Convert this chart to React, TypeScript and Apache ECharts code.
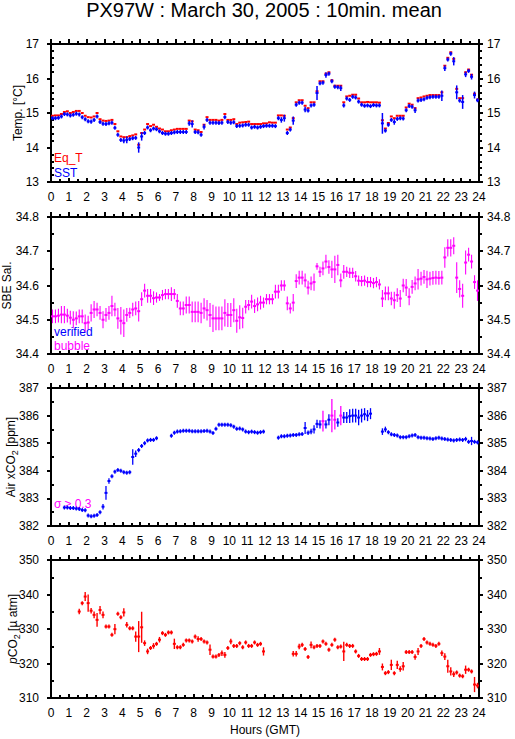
import React, { useEffect, useRef } from "react";
import * as echarts from "echarts";

const TITLE = "PX97W : March 30, 2005 : 10min. mean";
const X_NAME = "Hours (GMT)";
const HOUR_MIN = 0;
const HOUR_MAX = 24;
const HOUR_STEP = 1;
const BIN_WIDTH_H = 1 / 6; // 10-minute bins
const BIN_START = Array.from({ length: 144 }, (_, i) => i * BIN_WIDTH_H);

// Panel 1: temperatures (°C)
const SST = [
  14.85, 14.85, 14.86, 14.9, 14.97, 14.96,
  14.93, 14.95, 14.98, 14.96, 14.88, 14.82,
  14.76, 14.75, 14.8, 14.9, 14.74, 14.69,
  14.68, 14.7, 14.72, 14.57, 14.37, 14.22,
  14.2, 14.22, 14.25, 14.27, 14.28, 14.0,
  14.32, 14.42, 14.58, 14.5, 14.55, 14.53,
  14.47, 14.42, 14.4, 14.4, 14.42, 14.44,
  14.45, 14.45, 14.45, 14.45, 14.7, 14.68,
  14.45, 14.44, 14.37, 14.6, 14.8, 14.72,
  14.72, 14.72, 14.71, 14.72, 14.88, 14.74,
  14.72, 14.73, 14.62, 14.63, 14.64, 14.66,
  14.66, 14.58, 14.6, 14.58, 14.6, 14.62,
  14.63, 14.63, 14.63, 14.62,
  14.85, 14.8, 14.85, 14.42, 14.52, 14.78,
  15.24, 15.3, 15.3, 15.1, 15.07, 15.22,
  15.24, 15.58, 15.86, 15.88, 16.1, 16.14,
  15.92, 15.76, 15.75, 15.72, 15.22, 15.42,
  15.38, 15.47, 15.45, 15.33, 15.24, 15.21,
  15.22, 15.2, 15.23, 15.22, 15.22, 14.7,
  14.49, 14.66, 14.8, 14.74, 14.83, 14.85,
  14.84, 15.08, 15.2, 15.18, 15.08, 15.36,
  15.38, 15.4, 15.44, 15.46, 15.47, 15.47,
  15.47, 15.5, 16.3, 16.55, 16.72, 16.5,
  15.6, 15.36, 15.32, 16.12, 16.22, 16.05, 15.52, 15.37,
];
const SST_SIGMA = [
  0.03, 0.03, 0.05, 0.03, 0.04, 0.03,
  0.06, 0.03, 0.03, 0.03, 0.03, 0.03,
  0.04, 0.06, 0.03, 0.04, 0.05, 0.03,
  0.03, 0.03, 0.03, 0.05, 0.04, 0.04,
  0.08, 0.1, 0.04, 0.04, 0.05, 0.15,
  0.12, 0.04, 0.03, 0.03, 0.03, 0.03,
  0.03, 0.03, 0.03, 0.03, 0.03, 0.03,
  0.03, 0.03, 0.03, 0.03, 0.07, 0.1,
  0.03, 0.03, 0.03, 0.08, 0.03, 0.03,
  0.03, 0.04, 0.03, 0.05, 0.04, 0.04,
  0.03, 0.03, 0.04, 0.03, 0.03, 0.03,
  0.03, 0.04, 0.03, 0.03, 0.03, 0.03,
  0.03, 0.03, 0.03, 0.03,
  0.06, 0.08, 0.1, 0.03, 0.04, 0.12,
  0.05, 0.03, 0.03, 0.08, 0.03, 0.03,
  0.03, 0.2, 0.03, 0.03, 0.08, 0.04,
  0.06, 0.03, 0.03, 0.08, 0.06, 0.03,
  0.03, 0.03, 0.03, 0.03, 0.03, 0.03,
  0.03, 0.03, 0.03, 0.03, 0.03, 0.3,
  0.05, 0.03, 0.03, 0.08, 0.03, 0.03,
  0.03, 0.06, 0.03, 0.05, 0.08, 0.03,
  0.03, 0.03, 0.03, 0.03, 0.03, 0.03,
  0.03, 0.15, 0.08, 0.05, 0.03, 0.12,
  0.2, 0.04, 0.2, 0.08, 0.03, 0.08, 0.1, 0.03,
];
const EQ_T = [
  14.92, 14.93, 14.93, 14.97, 15.03, 15.05,
  15.0, 15.03, 15.06, 15.06, 15.0, 14.92,
  14.88, 14.87, 14.9, 15.0, 14.82, 14.78,
  14.77, 14.78, 14.8, 14.68, 14.47, 14.32,
  14.3, 14.3, 14.33, 14.35, 14.38, 14.08,
  14.42, 14.52, 14.68, 14.62, 14.66, 14.6,
  14.55, 14.52, 14.47, 14.47, 14.5, 14.52,
  14.54, 14.54, 14.54, 14.54, 14.78, 14.76,
  14.52, 14.5, 14.45, 14.66, 14.88, 14.8,
  14.8, 14.8, 14.78, 14.8, 14.97, 14.8,
  14.8, 14.82, 14.68, 14.72, 14.73, 14.74,
  14.75, 14.68, 14.68, 14.68, 14.68, 14.7,
  14.7, 14.73, 14.72, 14.72,
  14.93, 14.93, 14.92, 14.52, 14.58, 14.85,
  15.31, 15.37, 15.37, 15.21, 15.14, 15.31,
  15.31, 15.63, 15.92, 15.92, 16.14, 16.18,
  15.95, 15.79, 15.79, 15.79, 15.31, 15.48,
  15.5, 15.53, 15.53, 15.42, 15.31, 15.31,
  15.32, 15.31, 15.31, 15.31, 15.3, 14.79,
  14.55, 14.71, 14.9, 14.85, 14.92, 14.92,
  14.92, 15.16, 15.27, 15.24, 15.14, 15.43,
  15.45, 15.48, 15.5, 15.52, 15.52, 15.52,
  15.52, 15.6, 16.37, 16.6, 16.76, 16.57,
  15.7, 15.43, 15.43, 16.18, 16.26, 16.11, 15.56, 15.39,
];

// Panel 2: SBE salinity
const SALINITY = [
  34.51, 34.51, 34.512, 34.515, 34.515, 34.512,
  34.506, 34.5, 34.504, 34.51, 34.51, 34.49,
  34.492, 34.52, 34.53, 34.53, 34.52, 34.5,
  34.514, 34.52, 34.54, 34.53, 34.504, 34.497,
  34.49, 34.514, 34.52, 34.53, 34.533, 34.525,
  34.56, 34.585, 34.57, 34.57, 34.563, 34.565,
  34.565, 34.572, 34.575, 34.575, 34.575, 34.575,
  34.555, 34.533, 34.533, 34.543, 34.543, 34.523,
  34.523, 34.523, 34.52, 34.533, 34.528, 34.514,
  34.504, 34.504, 34.504, 34.504, 34.52, 34.514,
  34.514, 34.528, 34.497, 34.507, 34.505, 34.538,
  34.543, 34.553, 34.54, 34.545, 34.55, 34.55,
  34.56, 34.56, 34.56, 34.582, 34.582, 34.6,
  34.6, 34.548, 34.533, 34.55, 34.613, 34.623,
  34.623, 34.615, 34.594, 34.606, 34.61, 34.656,
  34.64, 34.65, 34.67, 34.654, 34.647, 34.647,
  34.66, 34.615, 34.64, 34.64, 34.637, 34.637,
  34.627, 34.614, 34.613, 34.614, 34.61, 34.61,
  34.607, 34.61, 34.603, 34.562, 34.577, 34.577,
  34.562, 34.557, 34.572, 34.562, 34.6, 34.594,
  34.567, 34.596, 34.606, 34.618, 34.62, 34.625,
  34.618, 34.62, 34.622, 34.623, 34.622, 34.623,
  34.682, 34.71, 34.71, 34.716, 34.623, 34.59,
  34.57, 34.667, 34.69, 34.67, 34.61, 34.585,
];
const SALINITY_SIGMA = [
  0.02, 0.02, 0.02, 0.025, 0.025, 0.02, 0.02, 0.025, 0.02, 0.02, 0.02, 0.025,
  0.02, 0.025, 0.025, 0.02, 0.02, 0.025, 0.02, 0.02, 0.03, 0.02, 0.03, 0.04,
  0.04, 0.02, 0.015, 0.02, 0.02, 0.03, 0.02, 0.02, 0.02, 0.02, 0.02, 0.015,
  0.01, 0.015, 0.015, 0.015, 0.02, 0.015, 0.02, 0.02, 0.02, 0.025, 0.025, 0.03,
  0.03, 0.03, 0.03, 0.03, 0.03, 0.035, 0.04, 0.035, 0.035, 0.035, 0.04, 0.035,
  0.035, 0.035, 0.035, 0.035, 0.03, 0.02, 0.015, 0.02, 0.02, 0.02, 0.02, 0.015,
  0.015, 0.015, 0.015, 0.02, 0.02, 0.015, 0.015, 0.02, 0.015, 0.025, 0.02, 0.02,
  0.02, 0.02, 0.02, 0.02, 0.025, 0.01, 0.015, 0.02, 0.02, 0.02, 0.025, 0.04,
  0.03, 0.02, 0.02, 0.015, 0.015, 0.015, 0.015, 0.015, 0.015, 0.015, 0.015, 0.015,
  0.015, 0.015, 0.015, 0.025, 0.02, 0.02, 0.02, 0.025, 0.02, 0.025, 0.02, 0.025,
  0.025, 0.02, 0.02, 0.03, 0.02, 0.02, 0.025, 0.02, 0.02, 0.02, 0.02, 0.02,
  0.03, 0.025, 0.025, 0.025, 0.045, 0.025, 0.035, 0.035, 0.02, 0.02, 0.02, 0.03,
];

// Panel 3: atmospheric xCO2 (ppm)
const AIR_XCO2 = [
  null, null, null, null,
  382.67, 382.67, 382.65, 382.65, 382.63, 382.62, 382.58, 382.57,
  382.38, 382.35, 382.37, 382.4, 382.5, 382.7,
  383.2, 383.63, 383.8, 383.97, 384.03, 384.0,
  383.95, 383.93, 383.95, 384.5, 384.62, 384.75,
  384.9, 385.0, 385.1, 385.12, 385.12, 385.18,
  null, null, null, null,
  385.27, 385.38, 385.42, 385.43, 385.45, 385.45, 385.45, 385.43,
  385.43, 385.43, 385.43, 385.44, 385.45, 385.42, 385.37, 385.52,
  385.67, 385.67, 385.67, 385.67, 385.65, 385.6, 385.52, 385.53,
  385.5, 385.42, 385.4, 385.42, 385.4, 385.38, 385.4, 385.42,
  null, null, null, null,
  385.2, 385.25, 385.25, 385.27, 385.28, 385.3, 385.3, 385.32,
  385.33, 385.55, 385.38, 385.42, 385.5, 385.7, 385.68, 385.8,
  385.68, 385.85, 386.0, 385.85, 385.75, 386.0, 385.93, 385.93,
  385.98, 386.0, 386.0, 385.93, 386.0, 386.05, 386.0, 386.07,
  null, null, null,
  385.42, 385.5, 385.4, 385.32, 385.3, 385.28, 385.22, 385.22,
  385.22, 385.25, 385.28, 385.3, 385.22, 385.2, 385.2, 385.18,
  385.17, 385.15, 385.18, 385.2, 385.17, 385.15, 385.13, 385.12,
  385.1, 385.12, 385.13, 385.12, 385.15, 385.05, 385.08, 385.05, 385.03,
];
const AIR_XCO2_SIGMA = [
  null, null, null, null,
  0.02, 0.02, 0.02, 0.02, 0.02, 0.02, 0.02, 0.02,
  0.03, 0.02, 0.02, 0.03, 0.05, 0.1,
  0.25, 0.1, 0.05, 0.03, 0.03, 0.03,
  0.02, 0.02, 0.02, 0.28, 0.12, 0.08,
  0.05, 0.04, 0.03, 0.03, 0.03, 0.03,
  null, null, null, null,
  0.03, 0.03, 0.02, 0.02, 0.02, 0.02, 0.02, 0.02,
  0.02, 0.02, 0.02, 0.02, 0.02, 0.02, 0.03, 0.05,
  0.02, 0.02, 0.02, 0.02, 0.02, 0.02, 0.02, 0.02,
  0.04, 0.02, 0.02, 0.02, 0.02, 0.02, 0.02, 0.02,
  null, null, null, null,
  0.02, 0.03, 0.03, 0.02, 0.02, 0.02, 0.02, 0.03,
  0.03, 0.22, 0.08, 0.1, 0.15, 0.15, 0.15, 0.38,
  0.15, 0.2, 0.6, 0.35, 0.15, 0.35, 0.2, 0.2,
  0.25, 0.25, 0.25, 0.28, 0.25, 0.22, 0.2, 0.2,
  null, null, null,
  0.12, 0.1, 0.05, 0.04, 0.04, 0.04, 0.03, 0.03,
  0.05, 0.03, 0.04, 0.05, 0.03, 0.03, 0.03, 0.03,
  0.03, 0.03, 0.04, 0.03, 0.03, 0.03, 0.03, 0.03,
  0.03, 0.04, 0.04, 0.05, 0.08, 0.05, 0.15, 0.05, 0.03,
];
const SIGMA_FLAG = 0.3;

// Panel 4: pCO2 (µatm)
const PCO2 = [
  null, null, null, null, null, null, null, null, null,
  335.06, 337.5, 339.4, 337.5, 335.3, 334.1,
  332.65, 335.5, 334.1, 330.7, 330.7, 328.3,
  329.95, 334.4, 333.4, 334.8, 331.2, 330.2,
  330.2, 327.8, 327.8, 330.5, 325.9, 323.5,
  324.5, 325.1, 325.7, 326.9, 328.8, 328.3,
  329.0, 329.0, 325.7, 324.7, 324.7, 325.4,
  326.7, 326.7, 326.4, 327.8, 327.1, 327.1,
  326.4, 326.1, 324.0, 322.0, 322.0, 322.5,
  323.0, 322.5, 324.5, 326.4, 325.1, 325.1,
  325.9, 324.7, 326.1, 325.1, 325.1, 326.1,
  325.4, 325.7, 323.5,
  null, null, null, null, null, null, null, null, null,
  322.8, 322.8, 324.9, 325.4, 324.2, 321.9,
  325.4, 324.7, 325.1, 325.1, 326.4, 325.7,
  324.0, 325.4, 326.9, 324.7, 324.9, 323.5,
  325.4, 325.1, 325.1, 323.5, 322.2, 321.3,
  321.3, 321.3, 322.5, 322.7, 322.8, 323.5,
  319.0, 317.2, 317.5, 319.6, 317.2, 319.6,
  318.4, 319.2, 323.3, 323.3, 323.3, 321.9,
  323.5, 325.1, 327.1, 326.1, 325.7, 325.4,
  325.1, 325.7, 323.0, 322.0, 319.2, 317.7,
  316.9, 317.4, 316.5, 316.3, 318.2, 318.2,
  317.7, 313.9, 313.6,
];
const PCO2_SIGMA = [
  null, null, null, null, null, null, null, null, null,
  0.8, 0.5, 1.3, 2.5, 0.8, 1.0,
  2.0, 1.2, 1.0, 0.5, 0.5, 0.5,
  1.5, 0.5, 0.5, 1.2, 0.8, 0.5,
  0.5, 1.5, 4.5, 4.5, 0.8, 0.8,
  0.5, 0.8, 0.5, 0.8, 0.5, 0.5,
  0.3, 0.3, 1.5, 0.5, 0.3, 0.5,
  0.5, 0.5, 0.5, 0.6, 0.8, 0.6,
  0.5, 0.5, 1.5, 0.5, 0.5, 0.5,
  0.8, 0.8, 0.5, 0.8, 0.5, 0.5,
  0.5, 0.5, 0.5, 0.5, 0.5, 0.5,
  0.5, 0.5, 1.2,
  null, null, null, null, null, null, null, null, null,
  0.8, 0.8, 0.8, 0.6, 0.6, 0.3,
  1.0, 0.5, 0.5, 0.5, 0.5, 0.3,
  0.5, 0.5, 0.3, 0.3, 0.5, 2.8,
  0.5, 0.5, 0.5, 0.5, 0.5, 0.3,
  0.3, 0.3, 0.5, 0.5, 0.5, 1.0,
  1.0, 0.3, 0.3, 1.5, 0.5, 1.2,
  0.8, 1.2, 0.5, 0.5, 0.5, 0.8,
  1.0, 0.5, 0.3, 0.3, 0.3, 0.3,
  0.3, 0.5, 0.8, 1.0, 1.9, 1.2,
  0.8, 0.5, 0.5, 0.5, 1.2, 0.5,
  0.3, 2.2, 0.8,
];

const PANELS = [
  { min: 13, max: 17, interval: 1, minorSplit: 5, name: "Temp. [°C]", nameGap: 24.5 },
  { min: 34.4, max: 34.8, interval: 0.1, minorSplit: 2, name: "SBE Sal.", nameGap: 35 },
  { min: 382, max: 387, interval: 1, minorSplit: 2, name: "Air xCO{sub|2} [ppm]", nameGap: 31.5 },
  { min: 310, max: 350, interval: 10, minorSplit: 2, name: "{it|p}CO{sub|2} [µ atm]", nameGap: 29.5 },
];

const LEGENDS = [
  { text: "Eq_T", color: "#ff0000", y: 158 },
  { text: "SST", color: "#0000ff", y: 172.5 },
  { text: "verified", color: "#0000ff", y: 332 },
  { text: "bubble", color: "#ff00ff", y: 345.5 },
  { text: "σ ≥ 0.3", color: "#ff00ff", y: 503.5 },
];

const RED = "#ff0000";
const BLUE = "#0000ff";
const MAGENTA = "#ff00ff";
const FONT = "'Liberation Sans', Arial, Helvetica, sans-serif";

const GRIDS = [
  { top: 44, height: 138 },
  { top: 217, height: 137 },
  { top: 388, height: 138 },
  { top: 560, height: 138 },
];

function buildSeries(
  name: string,
  gridIdx: number,
  values: (number | null)[],
  sigmas: (number | null)[] | null,
  colorFn: (s: number) => string,
  z: number,
  barWidth: number
) {
  const data: number[][] = [];
  values.forEach((v, i) => {
    if (v == null) return;
    const s = sigmas ? (sigmas[i] ?? 0) : -1;
    data.push([BIN_START[i], BIN_START[i] + BIN_WIDTH_H, v, s]);
  });
  return {
    type: "custom",
    name,
    xAxisIndex: gridIdx * 2,
    yAxisIndex: gridIdx * 3,
    z,
    data,
    encode: { x: [0, 1], y: 2 },
    renderItem: (params: any, api: any) => {
      const t0 = api.value(0);
      const t1 = api.value(1);
      const v = api.value(2);
      const s = api.value(3);
      const pL = api.coord([t0, v]);
      const pR = api.coord([t1, v]);
      const color = colorFn(s);
      const children: any[] = [
        {
          type: "line",
          shape: { x1: pL[0], y1: pL[1], x2: pR[0], y2: pR[1] },
          style: { stroke: color, lineWidth: 2 },
        },
      ];
      if (s >= 0) {
        const cx = (pL[0] + pR[0]) / 2;
        let yTop = api.coord([t0, v + s])[1];
        let yBot = api.coord([t0, v - s])[1];
        if (yBot - yTop < 4) {
          yTop = pL[1] - 2;
          yBot = pL[1] + 2;
        }
        children.push({
          type: "line",
          shape: { x1: cx, y1: yTop, x2: cx, y2: yBot },
          style: { stroke: color, lineWidth: barWidth },
        });
      }
      return { type: "group", children };
    },
  };
}

function buildOption() {
  const xAxis: any[] = [];
  const yAxis: any[] = [];
  const lineStyle = { color: "#000", width: 2 };
  const tickStyle = { color: "#000", width: 2 };
  GRIDS.forEach((_, g) => {
    xAxis.push({
      type: "value",
      gridIndex: g,
      position: "bottom",
      min: HOUR_MIN,
      max: HOUR_MAX,
      interval: HOUR_STEP,
      axisLine: { show: true, onZero: false, lineStyle },
      axisTick: { show: true, inside: true, length: 4, lineStyle: tickStyle },
      minorTick: { show: true, splitNumber: 2, length: 3, lineStyle: tickStyle },
      axisLabel: { show: true, margin: 9, color: "#000", fontSize: 12, fontFamily: FONT },
      splitLine: { show: false },
      minorSplitLine: { show: false },
      name: g === 3 ? X_NAME : "",
      nameLocation: "middle",
      nameGap: 26,
      nameMoveOverlap: false,
      nameTextStyle: { color: "#000", fontSize: 12, fontFamily: FONT },
    });
    xAxis.push({
      type: "value",
      gridIndex: g,
      position: "top",
      min: HOUR_MIN,
      max: HOUR_MAX,
      interval: HOUR_STEP,
      axisLine: { show: true, onZero: false, lineStyle },
      axisTick: { show: true, inside: false, length: 5, lineStyle: tickStyle },
      minorTick: { show: true, splitNumber: 2, length: 3, lineStyle: tickStyle },
      axisLabel: { show: false },
      splitLine: { show: false },
    });
    const p = PANELS[g];
    yAxis.push({
      type: "value",
      gridIndex: g,
      position: "left",
      min: p.min,
      max: p.max,
      interval: p.interval,
      axisLine: { show: true, onZero: false, lineStyle },
      axisTick: { show: true, inside: false, length: 4, lineStyle: tickStyle },
      axisLabel: { show: true, margin: 12, color: "#000", fontSize: 12, fontFamily: FONT },
      splitLine: { show: false },
      name: p.name,
      nameLocation: "middle",
      nameRotate: 90,
      nameGap: p.nameGap,
      nameMoveOverlap: false,
      nameTextStyle: {
        color: "#000",
        fontSize: 12,
        fontFamily: FONT,
        lineHeight: 18,
        rich: {
          sub: { fontSize: 9, lineHeight: 9, verticalAlign: "bottom", color: "#000", fontFamily: FONT },
          it: { fontSize: 12, fontStyle: "italic", color: "#000", fontFamily: FONT, lineHeight: 18 },
        },
      },
    });
    yAxis.push({
      type: "value",
      gridIndex: g,
      position: "left",
      min: p.min,
      max: p.max,
      interval: p.interval,
      axisLine: { show: false, onZero: false },
      axisTick: { show: false, inside: true },
      minorTick: { show: true, splitNumber: p.minorSplit, length: 3, lineStyle: tickStyle },
      axisLabel: { show: false },
      splitLine: { show: false },
    });
    yAxis.push({
      type: "value",
      gridIndex: g,
      position: "right",
      min: p.min,
      max: p.max,
      interval: p.interval,
      axisLine: { show: true, onZero: false, lineStyle },
      axisTick: { show: true, inside: false, length: 4, lineStyle: tickStyle },
      minorTick: { show: true, splitNumber: p.minorSplit, length: 3, lineStyle: tickStyle },
      axisLabel: { show: true, margin: 8, color: "#000", fontSize: 12, fontFamily: FONT },
      splitLine: { show: false },
    });
  });

  const series = [
    buildSeries("Eq_T", 0, EQ_T, null, () => RED, 2, 1.5),
    buildSeries("SST", 0, SST, SST_SIGMA, () => BLUE, 3, 1.5),
    buildSeries("bubble", 1, SALINITY, SALINITY_SIGMA, () => MAGENTA, 3, 1.1),
    buildSeries("Air xCO2", 2, AIR_XCO2, AIR_XCO2_SIGMA, (s) => (s >= SIGMA_FLAG ? MAGENTA : BLUE), 3, 1.3),
    buildSeries("pCO2", 3, PCO2, PCO2_SIGMA, () => RED, 3, 1.4),
  ];

  const graphic: any[] = [
    {
      type: "text",
      x: 264,
      y: 10,
      style: {
        text: TITLE,
        fill: "#000",
        font: `20px ${FONT}`,
        textAlign: "center",
        textVerticalAlign: "middle",
      },
    },
    ...LEGENDS.map((l) => ({
      type: "text",
      x: 54,
      y: l.y,
      style: {
        text: l.text,
        fill: l.color,
        font: `12px ${FONT}`,
        textAlign: "left",
        textVerticalAlign: "middle",
      },
    })),
  ];

  return {
    animation: false,
    backgroundColor: "#ffffff",
    grid: GRIDS.map((g) => ({
      left: 51,
      right: 36,
      top: g.top,
      height: g.height,
      containLabel: false,
      outerBoundsMode: "none",
    })),
    xAxis,
    yAxis,
    series,
    graphic,
  };
}

export default function App() {
  const ref = useRef<HTMLDivElement>(null);
  useEffect(() => {
    if (!ref.current) return;
    const chart = echarts.init(ref.current, undefined, { renderer: "svg" });
    chart.setOption(buildOption() as any);
    return () => chart.dispose();
  }, []);
  return (
    <div
      ref={ref}
      style={{ position: "fixed", left: 0, top: 0, width: 515, height: 739, background: "#fff" }}
    />
  );
}
